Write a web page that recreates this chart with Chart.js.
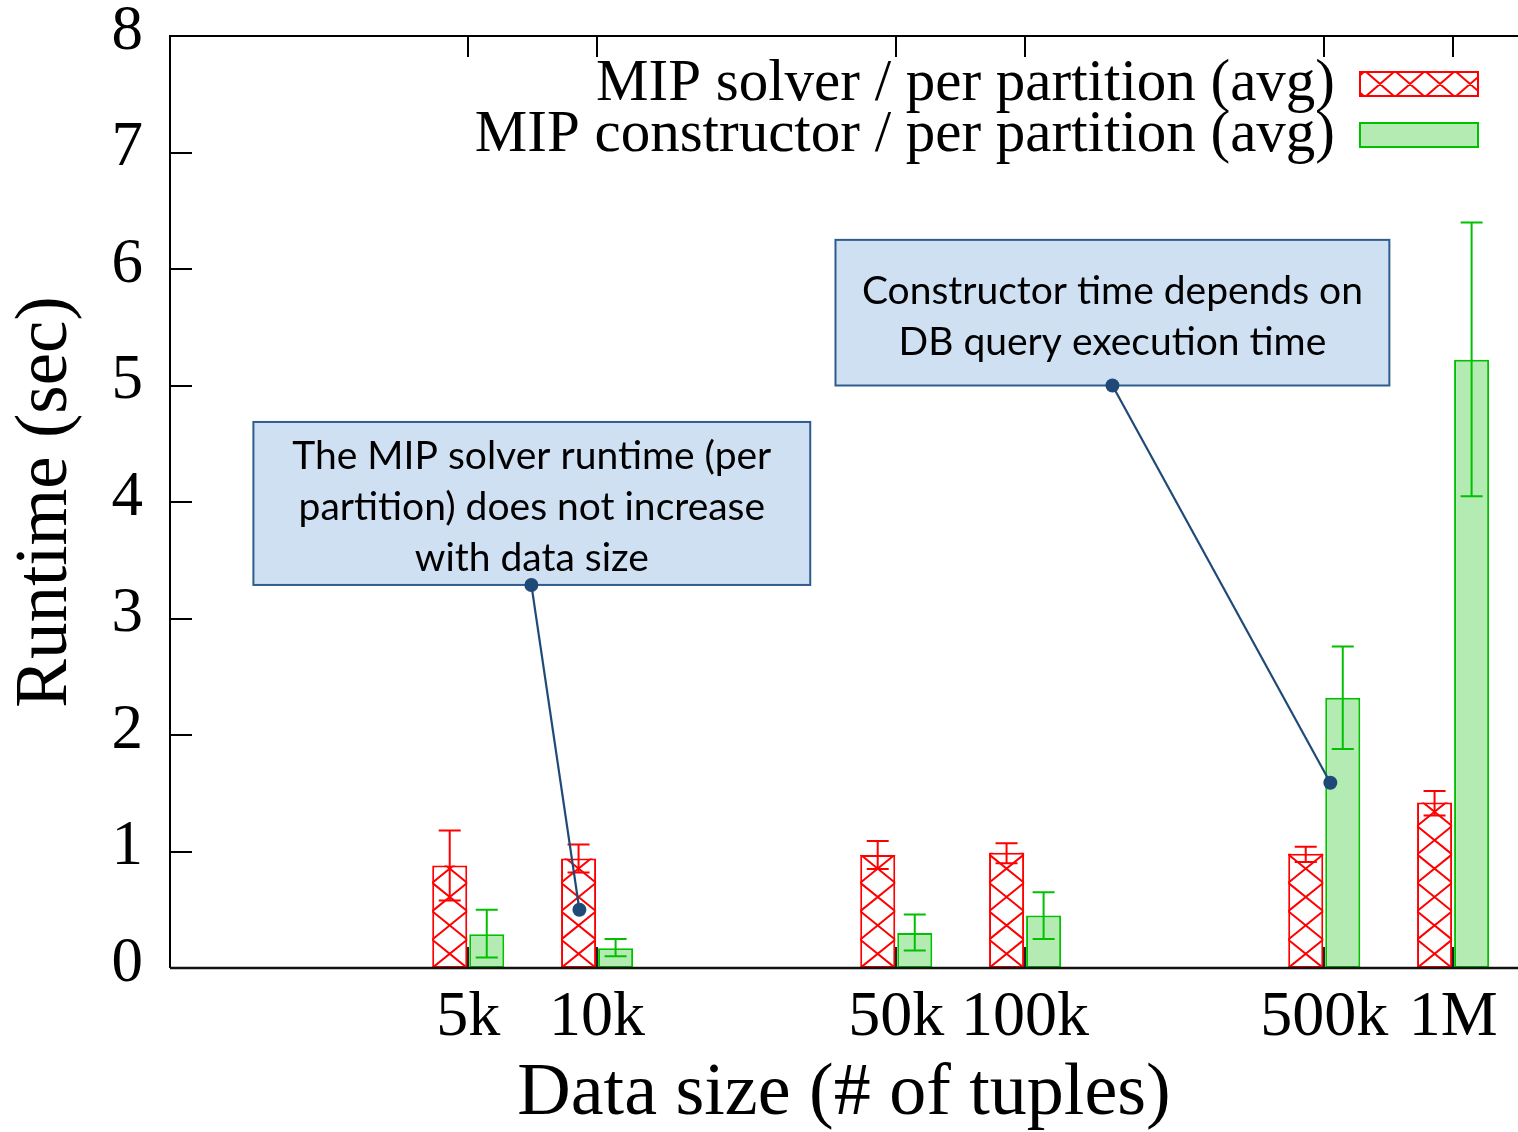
<!DOCTYPE html>
<html><head><meta charset="utf-8">
<script src="https://cdn.jsdelivr.net/npm/chart.js@4.4.1/dist/chart.umd.min.js"></script>
<style>html,body{margin:0;padding:0;background:#fff;overflow:hidden}canvas{display:block}</style>
</head><body>
<canvas id="c" width="1518" height="1132"></canvas>
<script>
// ---- data ----
const dataSizes = [5000, 10000, 50000, 100000, 500000, 1000000];
const xTickLabels = ['5k', '10k', '50k', '100k', '500k', '1M'];
const yTickValues = [0, 1, 2, 3, 4, 5, 6, 7, 8];
const seriesLabels = ['MIP solver / per partition (avg)', 'MIP constructor / per partition (avg)'];
const solverAvg  = [0.88, 0.94, 0.97, 0.99, 0.98, 1.42];
const solverLow  = [0.58, 0.82, 0.85, 0.90, 0.91, 1.31];
const solverHigh = [1.18, 1.06, 1.09, 1.07, 1.04, 1.52];
const constructorAvg  = [0.29, 0.17, 0.30, 0.45, 2.32, 5.22];
const constructorLow  = [0.09, 0.10, 0.15, 0.25, 1.88, 4.05];
const constructorHigh = [0.50, 0.25, 0.46, 0.65, 2.76, 6.40];
const noteTexts = [
  ['The MIP solver runtime (per', 'partition) does not increase', 'with data size'],
  ['Constructor time depends on', 'DB query execution time']
];
// annotation placement in data coordinates (x: tuples, y: sec)
const noteBoxes = [
  {x1: 1574, x2: 31480, yTop: 4.687, yBottom: 3.288, ax: 7023, ay: 3.288, tx: 9093, ty: 0.50},
  {x1: 36060, x2: 709800, yTop: 6.25, yBottom: 5.0, ax: 160000, ay: 5.0, tx: 516600, ty: 1.59}
];

// ---- styles ----
const RED = '#ff0000';
const GREEN_LINE = '#00c000';
const GREEN_FILL = '#b3ebb3';
const SERIF = '"Liberation Serif", "Times New Roman", serif';

function hatch(ctx, left, top, right, bottom, cellW, halfH, x0, y0) {
  ctx.save();
  ctx.beginPath(); ctx.rect(left, top, right - left, bottom - top); ctx.clip();
  ctx.strokeStyle = RED; ctx.lineWidth = 2;
  const t1 = (y0 - bottom) / halfH - 1, t2 = (y0 - top) / halfH + 1;
  const n = Math.ceil((bottom - top) / (2 * halfH)) + Math.ceil((right - left) / cellW) + 4;
  ctx.beginPath();
  for (let k = -n; k <= n; k++) {
    const bx = x0 + k * cellW;
    ctx.moveTo(bx + t1 * cellW / 2, y0 - t1 * halfH); ctx.lineTo(bx + t2 * cellW / 2, y0 - t2 * halfH);
    ctx.moveTo(bx - t1 * cellW / 2, y0 - t1 * halfH); ctx.lineTo(bx - t2 * cellW / 2, y0 - t2 * halfH);
  }
  ctx.stroke();
  ctx.restore();
}

const bgPlugin = {
  id: 'bg',
  beforeDraw(chart) {
    const ctx = chart.ctx; ctx.save(); ctx.fillStyle = '#fff';
    ctx.fillRect(0, 0, chart.width, chart.height); ctx.restore();
  }
};

const underTicks = {
  id: 'underTicks',
  beforeDatasetsDraw(chart) {
    const {ctx, chartArea: a, scales: {x}} = chart;
    ctx.save(); ctx.strokeStyle = '#222'; ctx.lineWidth = 2;
    ctx.beginPath();
    dataSizes.forEach(v => { const px = Math.round(x.getPixelForValue(v)); ctx.moveTo(px, a.bottom); ctx.lineTo(px, a.bottom - 21); });
    ctx.stroke(); ctx.restore();
  }
};

const decor = {
  id: 'decor',
  afterDatasetsDraw(chart) {
    const {ctx, chartArea: a, scales: {x, y}} = chart;
    // hatch the solver bars
    chart.getDatasetMeta(0).data.forEach(bar => {
      const l = bar.x - bar.width / 2, r = bar.x + bar.width / 2;
      hatch(ctx, l, bar.y, r, bar.base, r - l, 14.2, l, bar.base);
    });
    // error bars
    const errs = [[solverLow, solverHigh, RED], [constructorLow, constructorHigh, GREEN_LINE]];
    errs.forEach(([lo, hi, col], di) => {
      ctx.save(); ctx.strokeStyle = col; ctx.lineWidth = 2; ctx.beginPath();
      chart.getDatasetMeta(di).data.forEach((bar, j) => {
        const cx = bar.x, y1 = y.getPixelForValue(lo[j]), y2 = y.getPixelForValue(hi[j]);
        ctx.moveTo(cx, y1); ctx.lineTo(cx, y2);
        ctx.moveTo(cx - 11, y1); ctx.lineTo(cx + 11, y1);
        ctx.moveTo(cx - 11, y2); ctx.lineTo(cx + 11, y2);
      });
      ctx.stroke(); ctx.restore();
    });
    // frame
    ctx.save(); ctx.strokeStyle = '#000'; ctx.lineWidth = 2;
    ctx.beginPath();
    ctx.moveTo(a.left, a.top); ctx.lineTo(a.right, a.top);
    ctx.stroke();
    ctx.beginPath();
    ctx.moveTo(a.left, a.top - 1); ctx.lineTo(a.left, a.bottom);
    ctx.stroke();
    ctx.beginPath();
    yTickValues.forEach(v => { const py = Math.round(y.getPixelForValue(v)); ctx.moveTo(a.left, py); ctx.lineTo(a.left + 22, py); });
    ctx.stroke();
    ctx.beginPath();
    dataSizes.forEach(v => { const px = Math.round(x.getPixelForValue(v)); ctx.moveTo(px, a.top); ctx.lineTo(px, a.top + 21); });
    ctx.stroke();
    ctx.lineWidth = 2.5; ctx.strokeStyle = '#111';
    ctx.beginPath(); ctx.moveTo(a.left, a.bottom); ctx.lineTo(a.right, a.bottom); ctx.stroke();
    ctx.restore();
  },
  afterDraw(chart) {
    const {ctx, chartArea: a, scales: {x, y}} = chart;
    // legend
    ctx.save();
    ctx.font = '59px ' + SERIF; ctx.fillStyle = '#000'; ctx.textAlign = 'right'; ctx.textBaseline = 'alphabetic';
    const tx = a.right - 183, sx = a.right - 159, sw = 120, sh = 26;
    ctx.fillText(seriesLabels[0], tx, 100);
    ctx.fillText(seriesLabels[1], tx, 151);
    ctx.fillStyle = '#fff'; ctx.fillRect(sx, 71, sw, sh);
    hatch(ctx, sx, 71, sx + sw, 71 + sh, 30, 13, sx + 21, 71 + sh / 2);
    ctx.strokeStyle = RED; ctx.lineWidth = 2; ctx.strokeRect(sx + 1, 72, sw - 2, sh - 2);
    ctx.fillStyle = GREEN_FILL; ctx.fillRect(sx, 122, sw, sh);
    ctx.strokeStyle = GREEN_LINE; ctx.strokeRect(sx + 1, 123, sw - 2, sh - 2);
    ctx.restore();
    // annotations
    noteBoxes.forEach((nb, i) => {
      const l = x.getPixelForValue(nb.x1), r = x.getPixelForValue(nb.x2);
      const t = y.getPixelForValue(nb.yTop), b = y.getPixelForValue(nb.yBottom);
      ctx.save();
      ctx.fillStyle = '#cfe0f2'; ctx.fillRect(l, t, r - l, b - t);
      ctx.strokeStyle = '#2f5c8e'; ctx.lineWidth = 2; ctx.strokeRect(l, t, r - l, b - t);
      ctx.fillStyle = '#000'; ctx.font = '39px Lato, "Open Sans", sans-serif';
      ctx.textAlign = 'center'; ctx.textBaseline = 'middle';
      const lines = noteTexts[i], lh = 51, cy = (t + b) / 2 + 4;
      lines.forEach((s, k) => ctx.fillText(s, (l + r) / 2, cy + (k - (lines.length - 1) / 2) * lh));
      const ax = x.getPixelForValue(nb.ax), ay = y.getPixelForValue(nb.ay);
      const px = x.getPixelForValue(nb.tx), py = y.getPixelForValue(nb.ty);
      ctx.strokeStyle = '#1f4a78'; ctx.lineWidth = 2.2;
      ctx.beginPath(); ctx.moveTo(ax, ay); ctx.lineTo(px, py); ctx.stroke();
      ctx.fillStyle = '#1f4a78';
      [[ax, ay], [px, py]].forEach(([u, v]) => { ctx.beginPath(); ctx.arc(u, v, 7, 0, Math.PI * 2); ctx.fill(); });
      ctx.restore();
    });
  }
};

Chart.defaults.color = '#000';
new Chart(document.getElementById('c'), {
  type: 'bar',
  data: {
    datasets: [
      { label: seriesLabels[0], data: dataSizes.map((v, i) => ({x: v, y: solverAvg[i]})),
        backgroundColor: '#ffffff', borderColor: RED, borderWidth: 2, borderSkipped: false },
      { label: seriesLabels[1], data: dataSizes.map((v, i) => ({x: v, y: constructorAvg[i]})),
        backgroundColor: GREEN_FILL, borderColor: GREEN_LINE, borderWidth: 2, borderSkipped: false }
    ]
  },
  options: {
    responsive: false, animation: false, events: [],
    categoryPercentage: 0.575, barPercentage: 0.946,
    layout: { padding: { top: 36, right: 0, bottom: 0, left: 0 } },
    plugins: { legend: { display: false }, tooltip: { enabled: false } },
    scales: {
      x: {
        type: 'logarithmic', min: 1005, max: 1418000, offset: false,
        grid: { display: false, drawTicks: false, offset: false }, border: { display: false },
        afterBuildTicks: s => { s.ticks = dataSizes.map(v => ({ value: v })); },
        afterFit: s => { s.height = 164; s.paddingLeft = 0; s.paddingRight = 0; },
        ticks: { autoSkip: false, maxRotation: 0, padding: 12, callback: (v, i) => xTickLabels[i],
                 font: { family: SERIF, size: 64, lineHeight: 1.2 } },
        title: { display: true, text: 'Data size (# of tuples)', padding: { top: 0, bottom: 0 },
                 font: { family: SERIF, size: 74, lineHeight: 1.0 } }
      },
      y: {
        type: 'linear', min: 0, max: 8,
        grid: { display: false, drawTicks: false }, border: { display: false },
        afterBuildTicks: s => { s.ticks = yTickValues.map(v => ({ value: v })); },
        afterFit: s => { s.width = 170; s.paddingTop = 0; s.paddingBottom = 0; },
        ticks: { padding: 27, labelOffset: -4, font: { family: SERIF, size: 63, lineHeight: 1 } },
        title: { display: true, text: 'Runtime (sec)', padding: { top: 3, bottom: 0 },
                 font: { family: SERIF, size: 73, lineHeight: 1.2 } }
      }
    }
  },
  plugins: [bgPlugin, underTicks, decor]
});
</script>
</body></html>
